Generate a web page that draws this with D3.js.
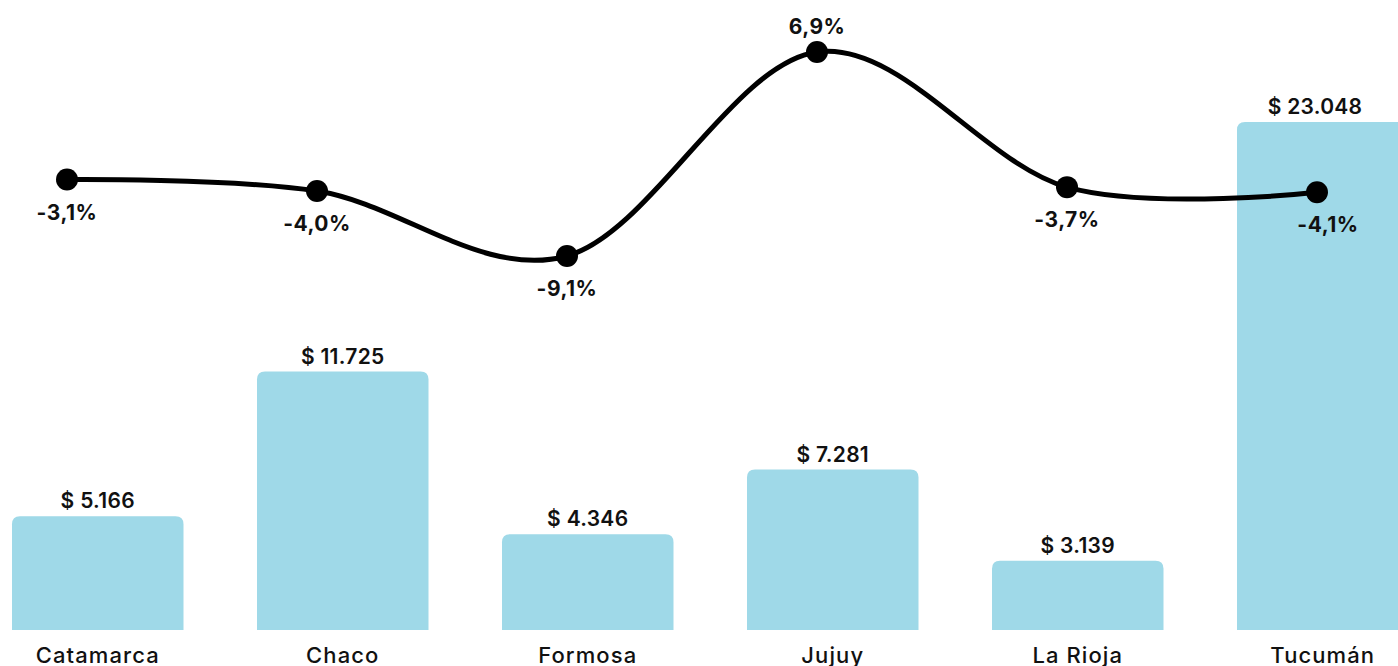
<!DOCTYPE html>
<html>
<head>
<meta charset="utf-8">
<script src="https://cdn.jsdelivr.net/npm/d3@7"></script>
<style>
  html, body { margin: 0; padding: 0; background: #ffffff; }
  svg { display: block; }
  text { font-family: "Inter", "Lato", sans-serif; fill: #111; }
</style>
</head>
<body>
<div id="chart"></div>
<script>
const categories = ["Catamarca", "Chaco", "Formosa", "Jujuy", "La Rioja", "Tucumán"];
const amounts = [5166, 11725, 4346, 7281, 3139, 23048];
const amountLabels = ["$ 5.166", "$ 11.725", "$ 4.346", "$ 7.281", "$ 3.139", "$ 23.048"];
const changes = [-3.1, -4.0, -9.1, 6.9, -3.7, -4.1];
const changeLabels = ["-3,1%", "-4,0%", "-9,1%", "6,9%", "-3,7%", "-4,1%"];

const W = 1398, H = 666;
const svg = d3.select("#chart").append("svg").attr("width", W).attr("height", H);

const x = d3.scaleBand().domain(categories).range([-24.75, 1445.25]).paddingInner(0.3).paddingOuter(0.15);
const y = d3.scaleLinear().domain([0, d3.max(amounts)]).range([630, 122]);

const xl = d3.scalePoint().domain(categories).range([67, 1317]);
const yl = d3.scaleLinear().domain([-9.1, 6.9]).range([256, 52]);

const r = 8;
function topRounded(x0, y0, w, h) {
  const rr = Math.min(r, h / 2, w / 2);
  return `M${x0},${y0 + h}V${y0 + rr}Q${x0},${y0} ${x0 + rr},${y0}H${x0 + w - rr}Q${x0 + w},${y0} ${x0 + w},${y0 + rr}V${y0 + h}Z`;
}

const data = categories.map((c, i) => ({ c, v: amounts[i], lab: amountLabels[i], p: changes[i], pl: changeLabels[i] }));

svg.append("g").selectAll("path").data(data).join("path")
  .attr("d", d => topRounded(x(d.c), y(d.v), x.bandwidth(), y(0) - y(d.v)))
  .attr("fill", "#9fd9e8");

svg.append("g").selectAll("text").data(data).join("text")
  .attr("x", d => Math.min(x(d.c) + x.bandwidth() / 2, W - 83))
  .attr("y", d => y(d.v) - 8)
  .attr("text-anchor", "middle")
  .attr("font-size", 21)
  .attr("font-weight", 600)
  .attr("letter-spacing", "0.3px")
  .text(d => d.lab);

svg.append("g").selectAll("text").data(data).join("text")
  .attr("x", d => x(d.c) + x.bandwidth() / 2)
  .attr("y", 663)
  .attr("text-anchor", "middle")
  .attr("font-size", 22)
  .attr("font-weight", 500)
  .attr("letter-spacing", "1.1px")
  .text(d => d.c);

const line = d3.line().x(d => xl(d.c)).y(d => yl(d.p)).curve(d3.curveCardinal.tension(0));
svg.append("path").datum(data)
  .attr("d", line)
  .attr("fill", "none")
  .attr("stroke", "#000")
  .attr("stroke-width", 5);

svg.append("g").selectAll("circle").data(data).join("circle")
  .attr("cx", d => xl(d.c))
  .attr("cy", d => yl(d.p))
  .attr("r", 11)
  .attr("fill", "#000");

svg.append("g").selectAll("text").data(data).join("text")
  .attr("x", d => xl(d.c) + (d.c === "Tucumán" ? 11 : 0))
  .attr("y", d => d.p > 0 ? yl(d.p) - 18 : yl(d.p) + 40)
  .attr("text-anchor", "middle")
  .attr("font-size", 21)
  .attr("font-weight", 650)
  .attr("letter-spacing", "0.5px")
  .text(d => d.pl);
</script>
</body>
</html>
